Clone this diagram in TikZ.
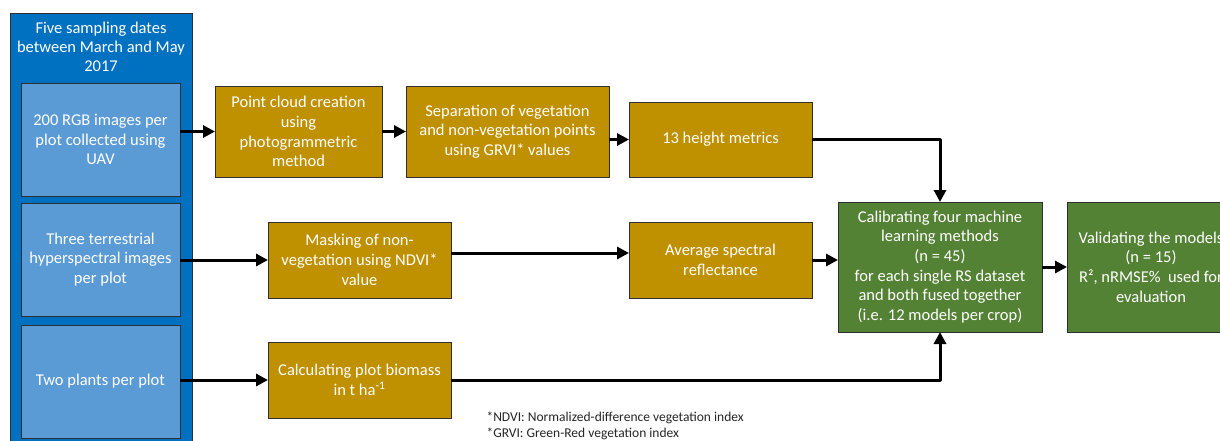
\documentclass[tikz,border=0pt]{standalone}
\usepackage{fontspec}
\setmainfont{Carlito}
\usetikzlibrary{arrows.meta,calc,shadows}
\definecolor{outerblue}{HTML}{0070C0}
\definecolor{innerblue}{HTML}{5B9BD5}
\definecolor{gold}{HTML}{BF9000}
\definecolor{leaf}{HTML}{548235}
\definecolor{edge}{HTML}{2F2F2F}
\begin{document}
\begin{tikzpicture}[x=1pt,y=-1pt,
  box/.style={draw=edge, line width=0.8pt, inner sep=2pt, outer sep=0pt, align=center,
    text=white, font=\fontsize{16.5}{19.7}\selectfont,
    drop shadow={shadow xshift=1pt, shadow yshift=-1.2pt, opacity=0.25}},
  bluebox/.style={box, fill=innerblue, minimum width=159, minimum height=113},
  goldbox/.style={box, fill=gold},
  greenbox/.style={box, fill=leaf},
  arr/.style={line width=3pt, -{Triangle[length=12pt,width=12pt]}},
  ln/.style={line width=3pt, line join=round}
]
\useasboundingbox (0,0) rectangle (1220,440);
\clip (0,0) rectangle (1220,440);
\fill[white] (0,0) rectangle (1220,440);

\node[draw=edge, line width=0.8pt, fill=outerblue, minimum width=182, minimum height=440, inner sep=0, outer sep=0, anchor=north west] (outer) at (10,13) {};
\node[align=center, text=white, font=\fontsize{16.5}{19}\selectfont] (title) at (101,47) {Five sampling dates\\between March and May\\2017};

\node[bluebox] (b1) at (100.5,139.5) {200 RGB images per\\plot collected using\\UAV};
\node[bluebox] (b2) at (100.5,259.5) {Three terrestrial\\hyperspectral images\\per plot};
\node[bluebox] (b3) at (100.5,381.5) {Two plants per plot};

\node[goldbox, minimum width=167, minimum height=91] (pc) at (298.5,131.5) {Point cloud creation\\using\\photogrammetric\\method};
\node[goldbox, minimum width=203, minimum height=91] (sep) at (507.5,131.5) {Separation of vegetation\\and non-vegetation points\\using GRVI* values};
\node[goldbox, minimum width=183, minimum height=75] (hm) at (720.5,139.5) {13 height metrics};
\node[goldbox, minimum width=183, minimum height=76] (mask) at (359.5,260) {Masking of non-\\vegetation using NDVI*\\value};
\node[goldbox, minimum width=183, minimum height=76] (avg) at (720.5,260) {Average spectral\\reflectance};
\node[goldbox, minimum width=183, minimum height=76] (calc) at (359.5,380) {Calculating plot biomass\\in t ha\textsuperscript{-1}};

\node[greenbox, minimum width=204, minimum height=130] (calib) at (940,267) {Calibrating four machine\\learning methods\\(n = 45)\\for each single RS dataset\\and both fused together\\(i.e. 12 models per crop)};
\node[greenbox, minimum width=168, minimum height=130] (valid) at (1151,267) {Validating the models\\(n = 15)\\R², nRMSE\%~ used for\\evaluation};

\draw[arr] (b1.east |- pc.west) -- (pc.west);
\draw[arr] (pc.east) -- (sep.west);
\draw[arr] (sep.east |- hm.west) -- (hm.west);
\draw[ln, -{Triangle[length=12pt,width=12pt]}] (hm.east) -| (calib.north);
\draw[arr] (b2.east |- mask.west) -- (mask.west);
\draw[arr] ([yshift=7pt]mask.east) -- ([yshift=7pt]avg.west);
\draw[arr] (avg.east) -- (avg.east -| calib.west);
\draw[arr] (b3.east |- calc.west) -- (calc.west);
\draw[ln, -{Triangle[length=12pt,width=12pt]}] (calc.east) -| (calib.south);
\draw[arr] (calib.east) -- (valid.west);

\node[anchor=west, align=left, text=black!85, font=\fontsize{13.5}{16}\selectfont] (note) at (483,426) {*NDVI: Normalized-difference vegetation index\\*GRVI: Green-Red vegetation index};
\end{tikzpicture}
\end{document}
